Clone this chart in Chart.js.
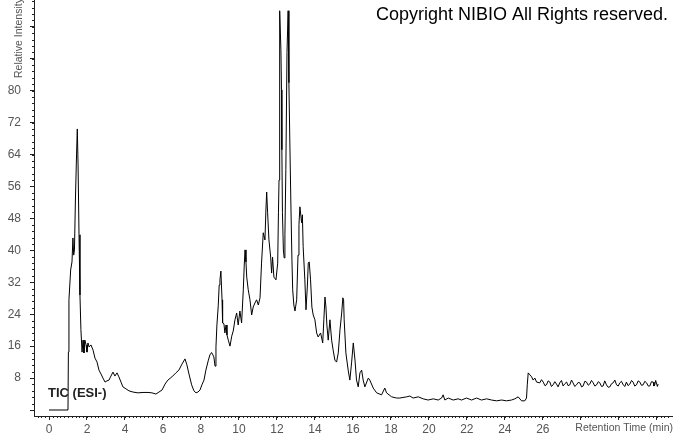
<!DOCTYPE html>
<html>
<head>
<meta charset="utf-8">
<script src="https://cdn.jsdelivr.net/npm/chart.js@4.4.1/dist/chart.umd.min.js"></script>
<style>
  body { margin: 0; background: #fff; }
  #wrap { width: 674px; height: 434px; }
</style>
</head>
<body>
<div id="wrap"><canvas id="chart"></canvas></div>
<script>
// TIC (ESI-) chromatogram
const retentionTime = [
  0, 1.0, 1.02, 1.05, 1.14, 1.21, 1.26, 1.30, 1.34, 1.39,
  1.45, 1.49, 1.53, 1.58, 1.63, 1.68, 1.74, 1.79, 1.84, 1.89,
  1.95, 2.0, 2.05, 2.11, 2.21, 2.32, 2.42, 2.53, 2.63, 2.74,
  2.84, 2.95, 3.05, 3.16, 3.26, 3.37, 3.47, 3.58, 3.68, 3.79,
  3.89, 4.05, 4.21, 4.42, 4.68, 4.95, 5.21, 5.42, 5.63, 5.79,
  5.95, 6.11, 6.26, 6.47, 6.68, 6.84, 7.0, 7.16, 7.26, 7.37,
  7.51, 7.63, 7.74, 7.84, 7.95, 8.05, 8.16, 8.26, 8.38, 8.47,
  8.56, 8.63, 8.68, 8.74, 8.79, 8.84, 8.91, 8.96, 9.0, 9.05,
  9.11, 9.14, 9.21, 9.26, 9.32, 9.37, 9.44, 9.53, 9.62, 9.70,
  9.79, 9.88, 9.96, 10.05, 10.14, 10.23, 10.28, 10.32, 10.37, 10.41,
  10.49, 10.58, 10.67, 10.75, 10.84, 10.93, 11.02, 11.11, 11.19, 11.28,
  11.37, 11.42, 11.46, 11.51, 11.58, 11.67, 11.72, 11.77, 11.84, 11.95,
  12.04, 12.08, 12.11, 12.13, 12.16, 12.21, 12.24, 12.26, 12.29, 12.34,
  12.38, 12.42, 12.47, 12.53, 12.59, 12.63, 12.68, 12.74, 12.79, 12.83,
  12.89, 12.95, 13.04, 13.11, 13.16, 13.21, 13.30, 13.34, 13.38, 13.47,
  13.53, 13.60, 13.65, 13.70, 13.77, 13.84, 13.91, 14.0, 14.09, 14.17,
  14.30, 14.41, 14.47, 14.53, 14.58, 14.63, 14.70, 14.79, 14.88, 14.96,
  15.05, 15.14, 15.23, 15.32, 15.41, 15.47, 15.51, 15.54, 15.63, 15.75,
  15.84, 15.93, 16.02, 16.11, 16.19, 16.28, 16.37, 16.46, 16.54, 16.63,
  16.81, 16.89, 17.07, 17.25, 17.51, 17.68, 17.77, 18.04, 18.30, 18.47,
  18.83, 19.0, 19.17, 19.44, 19.70, 19.96, 20.23, 20.49, 20.67, 20.75,
  20.84, 21.02, 21.28, 21.54, 21.72, 21.98, 22.25, 22.51, 22.77, 23.04,
  23.30, 23.56, 23.83, 24.09, 24.35, 24.53, 24.70, 24.88, 25.05, 25.14,
  25.18, 25.23, 25.32, 25.41, 25.49, 25.58, 25.67, 25.84, 25.93, 26.02,
  26.11, 26.19, 26.28, 26.37, 26.45, 26.54, 26.63, 26.72, 26.80, 26.89,
  26.98, 27.07, 27.16, 27.25, 27.33, 27.42, 27.51, 27.59, 27.68, 27.77,
  27.86, 27.95, 28.04, 28.12, 28.21, 28.30, 28.39, 28.47, 28.56, 28.65,
  28.74, 28.83, 28.92, 29.0, 29.09, 29.17, 29.26, 29.35, 29.44, 29.53,
  29.62, 29.70, 29.79, 29.88, 29.97, 30.05, 30.14, 30.23, 30.32, 30.40,
  30.49, 30.58, 30.67, 30.75, 30.84, 30.93, 31.02, 31.11, 31.19, 31.28,
  31.37, 31.46, 31.55, 31.63, 31.72, 31.81, 31.85, 31.89, 31.94, 31.98,
  32.03, 32.07
]
const intensity = [
  0, 0, 14.5, 27.6, 35.1, 37.1, 43.1, 38.8, 40.1, 52.6,
  63.9, 70.4, 61.4, 43.9, 28.8, 20.1, 14.5, 17.5, 14.3, 17.5,
  16.3, 14.5, 16.8, 15.8, 16.3, 15.0, 13.0, 12.0, 10.0, 9.0,
  8.0, 7.0, 7.3, 7.5, 8.5, 9.5, 8.5, 9.3, 8.3, 7.0,
  5.8, 5.3, 4.8, 4.5, 4.3, 4.4, 4.4, 4.3, 4.0, 4.5,
  5.0, 6.5, 7.5, 8.3, 9.3, 10.0, 11.5, 12.8, 11.3, 9.0,
  6.3, 4.8, 4.3, 4.5, 5.0, 6.3, 7.5, 10.0, 12.3, 13.8,
  14.4, 13.8, 13.3, 11.0, 15.8, 21.3, 26.1, 31.3, 32.6, 34.8,
  27.6, 21.8, 21.6, 19.3, 21.3, 18.8, 17.5, 16.0, 18.5, 19.8,
  22.6, 24.3, 21.3, 24.8, 21.8, 30.1, 36.3, 40.1, 37.1, 33.3,
  30.1, 27.6, 23.8, 25.8, 26.8, 27.6, 26.3, 28.1, 36.8, 44.4,
  42.6, 50.1, 54.6, 49.4, 42.6, 38.3, 34.3, 38.3, 33.3, 32.6,
  36.8, 49.4, 57.6, 77.7, 100, 90.2, 80.2, 65.2, 49.4, 40.1,
  38.1, 43.9, 60.2, 89.5, 100, 82.0, 66.9, 50.1, 37.6, 30.1,
  26.3, 24.8, 27.6, 38.8, 46.4, 50.9, 46.9, 48.9, 40.9, 32.6,
  25.1, 30.8, 36.8, 37.1, 32.6, 25.8, 23.8, 22.6, 19.3, 18.3,
  19.3, 16.8, 22.6, 28.3, 25.8, 21.3, 17.5, 22.6, 17.5, 15.0,
  12.5, 12.0, 14.3, 20.1, 24.3, 28.1, 27.6, 22.6, 14.3, 10.0,
  7.5, 11.8, 16.8, 12.5, 7.5, 5.8, 9.3, 10.0, 7.5, 5.8,
  8.0, 7.5, 5.5, 4.3, 3.8, 5.5, 4.3, 3.3, 3.0, 3.0,
  3.3, 3.5, 3.0, 3.3, 2.8, 2.5, 2.8, 2.5, 3.0, 3.8,
  2.5, 3.0, 2.5, 2.8, 2.5, 3.0, 2.5, 3.0, 2.5, 2.8,
  2.5, 2.3, 2.5, 2.3, 2.5, 2.8, 3.3, 2.3, 2.3, 3.0,
  6.3, 9.3, 8.8, 8.3, 7.5, 8.0, 7.0, 6.8, 7.6, 7.0,
  6.1, 6.3, 7.3, 7.0, 5.9, 6.3, 7.1, 6.5, 5.8, 6.8,
  7.4, 6.0, 6.6, 7.0, 6.1, 6.3, 7.5, 6.8, 5.9, 6.3,
  6.9, 6.8, 5.8, 6.0, 7.2, 7.0, 6.2, 6.5, 7.4, 6.8,
  6.0, 6.3, 7.1, 6.8, 5.9, 6.0, 7.3, 6.3, 5.7, 5.8,
  6.6, 6.8, 7.5, 6.3, 6.0, 6.8, 7.2, 6.3, 5.9, 7.0,
  6.1, 6.5, 7.4, 7.0, 6.0, 6.3, 7.3, 7.0, 6.2, 6.3,
  7.2, 6.8, 6.0, 6.0, 7.1, 7.0, 6.0, 6.3, 7.4, 6.8,
  5.9, 6.5
]
const xTickLabels = [0, 2, 4, 6, 8, 10, 12, 14, 16, 18, 20, 22, 24, 26]
const yTickLabels = [8, 16, 24, 32, 40, 48, 56, 64, 72, 80]

const xMin = -0.79, xMax = 32.8
const yMin = -1.5, yMax = 102.7
const xMinorStep = 0.2
const yMinorStep = 1.6

const tickFont = { family: 'Liberation Sans, Arial, sans-serif', size: 12 }
const tickColor = '#555'
const axisColor = '#222'

const extras = {
  id: 'extras',
  afterDraw(chart) {
    const ctx = chart.ctx
    const xs = chart.scales.x
    const ys = chart.scales.y
    const area = chart.chartArea

    // minor ticks
    ctx.save()
    ctx.strokeStyle = axisColor
    ctx.lineWidth = 1
    ctx.beginPath()
    for (let i = Math.ceil(xs.min / xMinorStep); i * xMinorStep <= xs.max; i++) {
      const px = Math.round(xs.getPixelForValue(i * xMinorStep)) + 0.5
      ctx.moveTo(px, area.bottom)
      ctx.lineTo(px, area.bottom + 2)
    }
    for (let i = Math.ceil(ys.min / yMinorStep); i * yMinorStep <= ys.max; i++) {
      const py = Math.round(ys.getPixelForValue(i * yMinorStep)) + 0.5
      ctx.moveTo(area.left, py)
      ctx.lineTo(area.left - 2, py)
    }
    ctx.stroke()

    // texts
    ctx.fillStyle = '#000'
    ctx.font = '18px Liberation Sans, Arial, sans-serif'
    ctx.textAlign = 'right'
    ctx.textBaseline = 'middle'
    ctx.fillText('Copyright NIBIO All Rights reserved.', 668, 15)

    ctx.fillStyle = '#222'
    ctx.font = 'bold 13px Liberation Sans, Arial, sans-serif'
    ctx.textAlign = 'left'
    ctx.fillText('TIC (ESI-)', 48, 393)

    ctx.fillStyle = tickColor
    ctx.font = '10.5px Liberation Sans, Arial, sans-serif'
    ctx.textAlign = 'right'
    ctx.fillText('Retention Time (min)', 673, 428)

    ctx.translate(22, 78)
    ctx.rotate(-Math.PI / 2)
    ctx.textAlign = 'left'
    ctx.textBaseline = 'alphabetic'
    ctx.fillText('Relative Intensity', 0, 0)
    ctx.restore()
  }
}

const ctx = document.getElementById('chart').getContext('2d')

new Chart(ctx, {
  type: 'line',
  data: {
    datasets: [{
      data: retentionTime.map((t, i) => ({ x: t, y: intensity[i] })),
      borderColor: '#000',
      borderWidth: 1,
      pointRadius: 0,
      tension: 0,
      fill: false
    }]
  },
  options: {
    responsive: true,
    maintainAspectRatio: false,
    animation: false,
    layout: { padding: { left: 0, top: 0, right: 2, bottom: 0 } },
    plugins: { legend: { display: false }, tooltip: { enabled: false } },
    scales: {
      x: {
        type: 'linear',
        min: xMin,
        max: xMax,
        afterFit(scale) {
          scale.height = 18
          scale.paddingLeft = 0
          scale.paddingRight = 0
        },
        border: { color: axisColor, width: 1 },
        grid: { drawOnChartArea: false, tickLength: 4, color: axisColor },
        ticks: {
          stepSize: 2,
          includeBounds: false,
          maxRotation: 0,
          autoSkip: false,
          padding: 2,
          color: tickColor,
          font: tickFont,
          callback: v => xTickLabels.includes(v) ? String(v) : ''
        }
      },
      y: {
        min: yMin,
        max: yMax,
        afterFit(scale) {
          scale.width = 34
          scale.paddingTop = 0
          scale.paddingBottom = 0
        },
        border: { color: axisColor, width: 1 },
        grid: { drawOnChartArea: false, tickLength: 4, color: axisColor },
        ticks: {
          stepSize: 8,
          includeBounds: false,
          autoSkip: false,
          padding: 9,
          color: tickColor,
          font: tickFont,
          callback: v => yTickLabels.includes(v) ? String(v) : ''
        }
      }
    }
  },
  plugins: [extras]
})
</script>
</body>
</html>
